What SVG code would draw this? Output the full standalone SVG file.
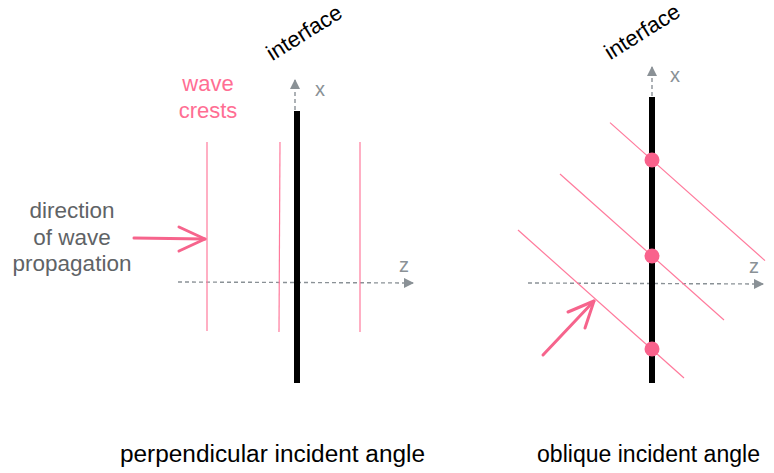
<svg xmlns="http://www.w3.org/2000/svg" width="774" height="473" viewBox="0 0 774 473">
<defs>
<style>
.txt{font-family:"Liberation Sans",Arial,sans-serif;}
.lbl{font-size:23px;fill:#000;}
.rot{font-size:22px;fill:#000;}
.grey{font-size:22.5px;fill:#5f6366;}
.pinkt{font-size:22px;fill:#ff6e93;}
.axl{font-size:20px;fill:#8a9196;}
.crest{stroke:#ff7a9c;stroke-width:1.2;fill:none;}
.iface{stroke:#000;stroke-width:6;}
.axis{stroke:#8a9196;stroke-width:1.4;stroke-dasharray:4 3;fill:none;}
.parrow{stroke:#f6648c;stroke-width:3;fill:none;stroke-linecap:round;stroke-linejoin:round;}
.dot{fill:#f9628c;}
</style>
<marker id="ah" viewBox="0 0 10 10" refX="9" refY="5" markerWidth="10" markerHeight="10" markerUnits="userSpaceOnUse" orient="auto">
<path d="M0,0 L10,5 L0,10 Z" fill="#8a9196"/>
</marker>
</defs>

<g id="connectors">
<line class="axis" x1="178" y1="282" x2="413" y2="283" marker-end="url(#ah)"/>
<line class="axis" x1="295" y1="110" x2="295" y2="80" marker-end="url(#ah)"/>
<line class="axis" x1="528" y1="283" x2="763" y2="284" marker-end="url(#ah)"/>
<line class="axis" x1="652" y1="96" x2="652" y2="67" marker-end="url(#ah)"/>
</g>

<g id="left-panel">
<line class="crest" x1="207" y1="142" x2="207" y2="331"/>
<line class="crest" x1="280" y1="142" x2="279" y2="332"/>
<line class="crest" x1="360" y1="142" x2="360" y2="332"/>
<line class="iface" x1="297" y1="111" x2="297" y2="383"/>
<polyline class="parrow" points="134,238 205,239"/>
<polyline class="parrow" points="179,227 205,239 179,251"/>
<text class="txt axl" x="315" y="96">x</text>
<text class="txt axl" x="399" y="272">z</text>
<text class="txt rot" transform="translate(305,34) rotate(-32)" text-anchor="middle" dominant-baseline="middle">interface</text>
<text class="txt pinkt" x="208" y="91" text-anchor="middle">wave</text>
<text class="txt pinkt" x="208" y="118" text-anchor="middle">crests</text>
<text class="txt grey" x="72" y="218" text-anchor="middle">direction</text>
<text class="txt grey" x="72" y="245" text-anchor="middle">of wave</text>
<text class="txt grey" x="72" y="271" text-anchor="middle">propagation</text>
<text class="txt lbl" x="120" y="462" textLength="305" lengthAdjust="spacingAndGlyphs">perpendicular incident angle</text>
</g>

<g id="right-panel">
<line class="crest" x1="610" y1="122.6" x2="765" y2="260.6"/>
<line class="crest" x1="560" y1="174" x2="724" y2="320"/>
<line class="crest" x1="518" y1="230" x2="684" y2="378"/>
<line class="iface" x1="652" y1="97" x2="652" y2="383"/>
<circle class="dot" cx="652" cy="160" r="7.5"/>
<circle class="dot" cx="652" cy="256" r="7.5"/>
<circle class="dot" cx="652" cy="349" r="7.5"/>
<polyline class="parrow" points="543,355 594,301"/>
<polyline class="parrow" points="568,312 594,301 585,328"/>
<text class="txt axl" x="670" y="82">x</text>
<text class="txt axl" x="749" y="273">z</text>
<text class="txt rot" transform="translate(643,33) rotate(-32)" text-anchor="middle" dominant-baseline="middle">interface</text>
<text class="txt lbl" x="537" y="462" textLength="223" lengthAdjust="spacingAndGlyphs">oblique incident angle</text>
</g>
</svg>
